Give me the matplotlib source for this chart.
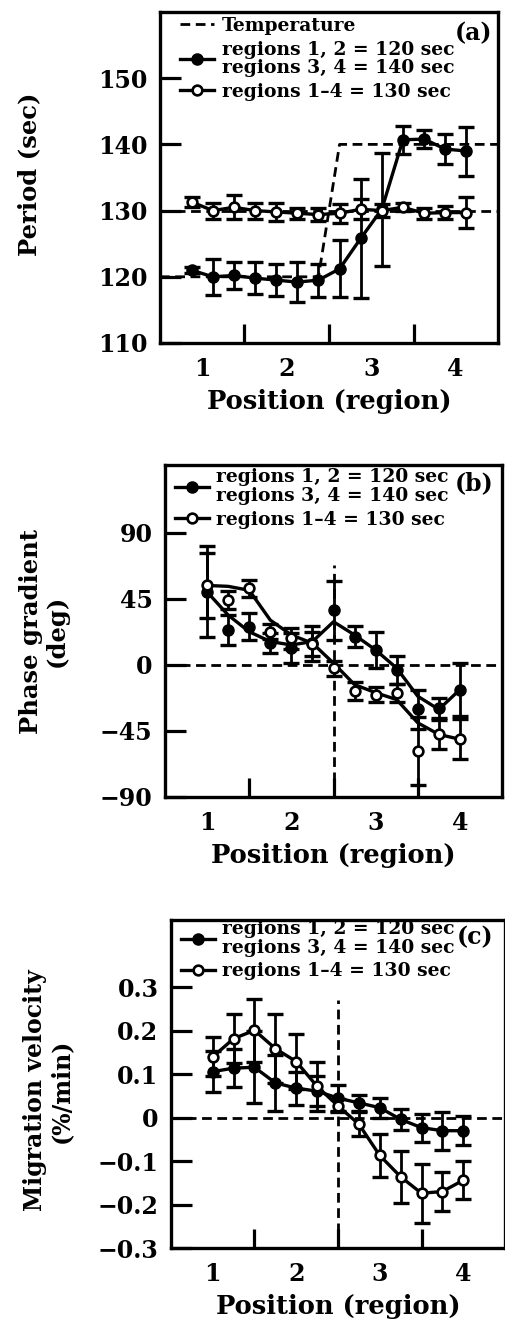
import matplotlib
matplotlib.use('Agg')
import matplotlib.pyplot as plt
from matplotlib.lines import Line2D
from matplotlib.ticker import FixedLocator

plt.rcParams['font.family'] = ['DejaVu Serif']
plt.rcParams['font.weight'] = 'bold'

# ---------------- data ----------------
region_ticks = [1, 2, 3, 4]
region_labels = ['1', '2', '3', '4']
region_bounds = [1.5, 2.5, 3.5]

# (a) period
period_pos = [0.875, 1.125, 1.375, 1.625, 1.875, 2.125, 2.375,
              2.625, 2.875, 3.125, 3.375, 3.625, 3.875, 4.125]
period_step = [121.0, 120.0, 120.2, 119.8, 119.5, 119.2, 119.5,
               121.2, 125.8, 130.2, 140.7, 140.8, 139.3, 139.0]
period_step_err = [0.5, 2.7, 2.0, 2.4, 2.4, 3.0, 2.5,
                   4.3, 9.0, 8.5, 2.1, 1.4, 2.3, 3.7]
period_unif = [131.3, 130.0, 130.5, 130.0, 129.8, 129.6, 129.4,
               129.6, 130.2, 130.0, 130.5, 129.6, 129.7, 129.7]
period_unif_err = [0.8, 1.2, 1.8, 1.2, 1.4, 0.8, 1.0,
                   1.4, 1.5, 1.0, 0.6, 0.8, 1.0, 2.3]
temp_x = [0.5, 2.375, 2.625, 4.5]
temp_step = [120, 120, 140, 140]
temp_unif = [130, 130, 130, 130]
period_yticks = [110, 120, 130, 140, 150]
period_ylabels = ['110', '120', '130', '140', '150']

# (b) phase gradient
grad_pos = [1.0, 1.25, 1.5, 1.75, 2.0, 2.25, 2.5,
            2.75, 3.0, 3.25, 3.5, 3.75, 4.0]
grad_step = [49.6, 23.7, 26.0, 14.7, 11.3, 14.7, 37.2,
             19.2, 10.1, -3.4, -30.4, -29.3, -16.9]
grad_step_err = [31, 10, 9, 7, 10, 12, 20, 7, 12, 9.5, 13, 7, 18]
grad_step_fit = [49.6, 33.8, 22.5, 15.8, 13.5, 15.8, 29.3,
                 20.3, 10.1, -2.3, -21.4, -30.4, -16.9]
grad_unif = [54, 44, 52, 22.5, 18, 14, -2.3,
             -18, -20.3, -19, -58.6, -47.4, -50.7]
grad_unif_err = [22, 6, 6, 5, 7, 8, 5, 6, 5, 6, 23, 10, 13.5]
grad_unif_fit = [54, 53.4, 50.7, 30.4, 20.3, 14.7, 1.1,
                 -13.5, -19, -23.7, -39.5, -47.4, -50.7]
grad_yticks = [-90, -45, 0, 45, 90]
grad_ylabels = ['\u221290', '\u221245', '0', '45', '90']
grad_vline = [-90, 68]

# (c) migration velocity
vel_pos = [1.0, 1.25, 1.5, 1.75, 2.0, 2.25, 2.5,
           2.75, 3.0, 3.25, 3.5, 3.75, 4.0]
vel_step = [0.106, 0.114, 0.116, 0.080, 0.068, 0.061, 0.045,
            0.034, 0.023, -0.004, -0.023, -0.030, -0.030]
vel_step_err = [0.047, 0.043, 0.083, 0.064, 0.038, 0.034, 0.030,
                0.019, 0.023, 0.025, 0.032, 0.044, 0.034]
vel_unif = [0.140, 0.182, 0.201, 0.159, 0.129, 0.072, 0.027,
            -0.015, -0.087, -0.136, -0.174, -0.170, -0.144]
vel_unif_err = [0.045, 0.057, 0.072, 0.080, 0.064, 0.057, 0.015,
                0.027, 0.049, 0.060, 0.068, 0.044, 0.044]
vel_yticks = [-0.3, -0.2, -0.1, 0, 0.1, 0.2, 0.3]
vel_ylabels = ['\u22120.3', '\u22120.2', '\u22120.1', '0', '0.1', '0.2', '0.3']
vel_vline = [-0.3, 0.27]

label_step = 'regions 1, 2 = 120 sec\nregions 3, 4 = 140 sec'
label_unif = 'regions 1\u20134 = 130 sec'

# ---------------- style ----------------
W, H = 506, 1337
fig = plt.figure(figsize=(W / 100, H / 100), dpi=100)


def box(l, t, r, b):
    return [l / W, 1 - b / H, (r - l) / W, (b - t) / H]


ax_a = fig.add_axes(box(160, 12, 498, 343))
ax_b = fig.add_axes(box(165, 465, 502, 797))
ax_c = fig.add_axes(box(171, 920, 505, 1248))

DASH = dict(color='k', lw=2.0, ls=(0, (3.5, 2.0)))
EB = dict(fmt='none', ecolor='k', elinewidth=2.0, capsize=5.5, capthick=2.4)
FILLED = dict(ls='none', marker='o', ms=8, mfc='k', mec='k')
OPEN = dict(ls='none', marker='o', ms=7, mfc='white', mec='k', mew=1.9)
LINE = dict(color='k', lw=2.4)


def style(ax):
    for s in ax.spines.values():
        s.set_linewidth(2.4)
    ax.set_xlim(0.5, 4.5)
    ax.set_xticks(region_ticks)
    ax.set_xticklabels(region_labels)
    ax.tick_params(axis='x', which='major', length=0, pad=10, labelsize=17)
    ax.xaxis.set_minor_locator(FixedLocator(region_bounds))
    ax.tick_params(axis='x', which='minor', direction='in', length=14,
                   width=2.3, bottom=True, top=False)
    ax.tick_params(axis='y', direction='in', length=15, width=2.3, pad=9,
                   labelsize=17, right=False)
    ax.set_xlabel('Position (region)', fontsize=18.5, fontweight='bold',
                  labelpad=6)


def legend(ax, anchor, with_temp):
    hs, ls = [], []
    if with_temp:
        hs.append(Line2D([], [], **DASH))
        ls.append('Temperature')
    hs.append(Line2D([], [], color='k', lw=2.4, marker='o', ms=8))
    ls.append(label_step)
    hs.append(Line2D([], [], color='k', lw=2.4, marker='o', ms=7,
                     mfc='white', mew=1.9))
    ls.append(label_unif)
    leg = ax.legend(hs, ls, loc='upper left', bbox_to_anchor=anchor,
                    frameon=False, borderpad=0, borderaxespad=0,
                    handlelength=1.8, handletextpad=0.4, labelspacing=0.3,
                    prop={'size': 13.5, 'weight': 'bold'})
    for t in leg.get_texts():
        t.set_linespacing(1.05)


# ---- (a)
ax = ax_a
style(ax)
ax.plot(temp_x, temp_step, **DASH)
ax.plot(temp_x, temp_unif, **DASH)
ax.errorbar(period_pos, period_unif, yerr=period_unif_err, **EB)
ax.errorbar(period_pos, period_step, yerr=period_step_err, **EB)
ax.plot(period_pos, period_step, **LINE)
ax.plot(period_pos, period_unif, **LINE)
ax.plot(period_pos, period_step, **FILLED)
ax.plot(period_pos, period_unif, **OPEN)
ax.set_ylim(110, 160)
ax.set_yticks(period_yticks)
ax.set_yticklabels(period_ylabels)
ax.set_ylabel('Period (sec)', fontsize=17.5, fontweight='bold')
ax.yaxis.set_label_coords(-0.35, 0.51)
legend(ax, (0.06, 0.985), True)
ax.text(0.983, 0.972, '(a)', transform=ax.transAxes, ha='right', va='top',
        fontsize=17)

# ---- (b)
ax = ax_b
style(ax)
ax.axhline(0, **DASH)
ax.plot([2.5, 2.5], grad_vline, **DASH)
ax.errorbar(grad_pos, grad_unif, yerr=grad_unif_err, **EB)
ax.errorbar(grad_pos, grad_step, yerr=grad_step_err, **EB)
ax.plot(grad_pos, grad_step_fit, **LINE)
ax.plot(grad_pos, grad_unif_fit, **LINE)
ax.plot(grad_pos, grad_step, **FILLED)
ax.plot(grad_pos, grad_unif, **OPEN)
ax.set_ylim(-90, 136)
ax.set_yticks(grad_yticks)
ax.set_yticklabels(grad_ylabels)
ax.set_ylabel('Phase gradient\n(deg)', fontsize=17.5, fontweight='bold',
              linespacing=1.1)
ax.yaxis.set_label_coords(-0.285, 0.50)
legend(ax, (0.03, 0.99), False)
ax.text(0.975, 0.98, '(b)', transform=ax.transAxes, ha='right', va='top',
        fontsize=17)

# ---- (c)
ax = ax_c
style(ax)
ax.axhline(0, **DASH)
ax.plot([2.5, 2.5], vel_vline, **DASH)
ax.errorbar(vel_pos, vel_unif, yerr=vel_unif_err, **EB)
ax.errorbar(vel_pos, vel_step, yerr=vel_step_err, **EB)
ax.plot(vel_pos, vel_step, **LINE)
ax.plot(vel_pos, vel_unif, **LINE)
ax.plot(vel_pos, vel_step, **FILLED)
ax.plot(vel_pos, vel_unif, **OPEN)
ax.set_ylim(-0.3, 0.455)
ax.set_yticks(vel_yticks)
ax.set_yticklabels(vel_ylabels)
ax.set_ylabel('Migration velocity\n(%/min)', fontsize=17, fontweight='bold',
              linespacing=1.1)
ax.yaxis.set_label_coords(-0.295, 0.48)
legend(ax, (0.03, 1.0), False)
ax.text(0.965, 0.985, '(c)', transform=ax.transAxes, ha='right', va='top',
        fontsize=17)

fig.savefig('out.png', dpi=100)
